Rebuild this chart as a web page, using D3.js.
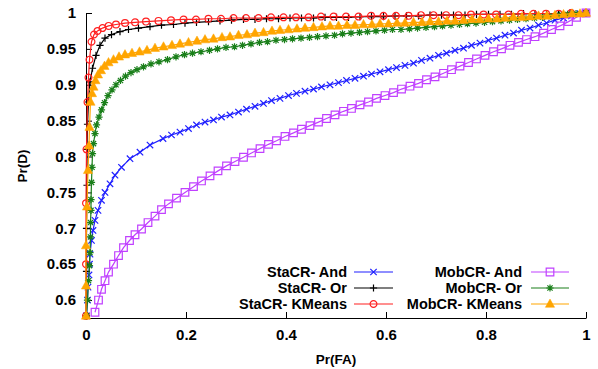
<!DOCTYPE html>
<html>
<head>
<meta charset="utf-8">
<script src="https://cdn.jsdelivr.net/npm/d3@7"></script>
<style>
  body { margin: 0; background: #fff; }
  svg { display: block; font-family: "Liberation Sans", Arial, sans-serif; }
</style>
</head>
<body>
<div id="chart"></div>
<script>
// ROC curves, Pr(D) vs Pr(FA). Points are [Pr(FA), Pr(D)].
const xTicks = [0, 0.2, 0.4, 0.6, 0.8, 1];
const xTickLabels = ['0', '0.2', '0.4', '0.6', '0.8', '1'];
const yTicks = [0.6, 0.65, 0.7, 0.75, 0.8, 0.85, 0.9, 0.95, 1];
const yTickLabels = ['0.6', '0.65', '0.7', '0.75', '0.8', '0.85', '0.9', '0.95', '1'];

const seriesNames = ['StaCR- And', 'StaCR- Or', 'StaCR- KMeans', 'MobCR- And', 'MobCR- Or', 'MobCR- KMeans'];

const staAnd = [[0.001,0.578],[0.003,0.600],[0.004,0.618],[0.006,0.635],[0.007,0.650],[0.008,0.664],[0.011,0.683],[0.014,0.697],[0.018,0.711],[0.024,0.725],[0.031,0.739],[0.038,0.750],[0.048,0.762],[0.058,0.774],[0.071,0.785],[0.088,0.797],[0.108,0.806],[0.128,0.816],[0.154,0.825],[0.171,0.830],[0.188,0.834],[0.205,0.839],[0.221,0.844],[0.238,0.848],[0.255,0.851],[0.271,0.855],[0.288,0.858],[0.305,0.862],[0.321,0.866],[0.338,0.870],[0.355,0.874],[0.371,0.878],[0.388,0.881],[0.405,0.885],[0.421,0.888],[0.438,0.891],[0.455,0.894],[0.471,0.897],[0.488,0.900],[0.505,0.903],[0.521,0.906],[0.538,0.909],[0.555,0.912],[0.571,0.915],[0.588,0.918],[0.605,0.921],[0.621,0.924],[0.638,0.927],[0.655,0.930],[0.671,0.934],[0.688,0.937],[0.705,0.941],[0.721,0.944],[0.738,0.948],[0.755,0.951],[0.771,0.955],[0.788,0.958],[0.805,0.962],[0.821,0.965],[0.838,0.969],[0.855,0.972],[0.871,0.976],[0.888,0.979],[0.905,0.983],[0.921,0.986],[0.938,0.990],[0.955,0.993],[0.971,0.996],[0.988,0.999],[1.000,1.000]];

const staOr = [[0.000,0.578],[0.001,0.640],[0.001,0.700],[0.002,0.760],[0.002,0.810],[0.003,0.845],[0.005,0.876],[0.008,0.904],[0.013,0.923],[0.020,0.941],[0.028,0.955],[0.038,0.965],[0.051,0.970],[0.068,0.974],[0.085,0.977],[0.105,0.979],[0.128,0.981],[0.151,0.983],[0.175,0.984],[0.198,0.986],[0.221,0.987],[0.245,0.988],[0.268,0.989],[0.291,0.990],[0.315,0.991],[0.338,0.991],[0.361,0.992],[0.385,0.992],[0.408,0.993],[0.431,0.993],[0.455,0.993],[0.478,0.994],[0.501,0.994],[0.525,0.994],[0.548,0.995],[0.571,0.995],[0.595,0.995],[0.618,0.996],[0.641,0.996],[0.665,0.996],[0.688,0.997],[0.711,0.997],[0.735,0.997],[0.758,0.997],[0.781,0.998],[0.805,0.998],[0.828,0.998],[0.851,0.998],[0.875,0.999],[0.898,0.999],[0.921,0.999],[0.945,0.999],[0.968,1.000],[1.000,1.000]];

const staKMeans = [[0.000,0.578],[0.000,0.650],[0.000,0.735],[0.001,0.810],[0.003,0.876],[0.005,0.910],[0.007,0.935],[0.011,0.960],[0.016,0.970],[0.023,0.975],[0.033,0.979],[0.045,0.982],[0.060,0.984],[0.078,0.986],[0.098,0.987],[0.120,0.988],[0.145,0.989],[0.170,0.990],[0.195,0.991],[0.220,0.991],[0.245,0.992],[0.270,0.992],[0.295,0.993],[0.320,0.993],[0.345,0.993],[0.370,0.994],[0.395,0.994],[0.420,0.994],[0.445,0.994],[0.470,0.995],[0.495,0.995],[0.520,0.995],[0.545,0.995],[0.570,0.996],[0.595,0.996],[0.620,0.996],[0.645,0.996],[0.670,0.997],[0.695,0.997],[0.720,0.997],[0.745,0.997],[0.770,0.998],[0.795,0.998],[0.820,0.998],[0.845,0.998],[0.870,0.999],[0.895,0.999],[0.920,0.999],[0.945,0.999],[0.970,1.000],[1.000,1.000]];

const mobAnd = [[0.018,0.583],[0.025,0.600],[0.031,0.615],[0.038,0.627],[0.045,0.639],[0.055,0.650],[0.065,0.662],[0.075,0.673],[0.087,0.683],[0.098,0.691],[0.111,0.699],[0.124,0.708],[0.138,0.717],[0.151,0.726],[0.165,0.734],[0.181,0.742],[0.198,0.750],[0.215,0.758],[0.231,0.766],[0.248,0.773],[0.264,0.780],[0.281,0.787],[0.298,0.793],[0.315,0.799],[0.331,0.805],[0.348,0.811],[0.365,0.817],[0.381,0.822],[0.398,0.828],[0.415,0.833],[0.431,0.838],[0.448,0.843],[0.465,0.848],[0.481,0.853],[0.498,0.858],[0.515,0.863],[0.531,0.867],[0.548,0.872],[0.565,0.876],[0.581,0.881],[0.598,0.885],[0.615,0.889],[0.631,0.894],[0.648,0.898],[0.665,0.902],[0.681,0.907],[0.698,0.911],[0.715,0.916],[0.731,0.921],[0.748,0.926],[0.765,0.931],[0.781,0.936],[0.798,0.941],[0.815,0.946],[0.831,0.950],[0.848,0.955],[0.865,0.959],[0.881,0.963],[0.898,0.967],[0.915,0.972],[0.931,0.977],[0.948,0.982],[0.965,0.988],[0.981,0.994],[1.000,1.000]];

const mobOr = [[0.001,0.578],[0.003,0.600],[0.005,0.627],[0.007,0.648],[0.008,0.666],[0.009,0.688],[0.009,0.708],[0.010,0.725],[0.010,0.740],[0.011,0.764],[0.012,0.785],[0.013,0.804],[0.015,0.818],[0.018,0.832],[0.021,0.844],[0.026,0.855],[0.031,0.865],[0.037,0.875],[0.044,0.885],[0.052,0.893],[0.060,0.900],[0.069,0.906],[0.079,0.912],[0.090,0.917],[0.102,0.921],[0.115,0.925],[0.130,0.929],[0.146,0.932],[0.163,0.935],[0.180,0.939],[0.197,0.942],[0.213,0.944],[0.230,0.946],[0.247,0.948],[0.263,0.950],[0.280,0.952],[0.297,0.953],[0.313,0.955],[0.330,0.957],[0.347,0.959],[0.363,0.960],[0.380,0.962],[0.397,0.963],[0.413,0.964],[0.430,0.965],[0.447,0.966],[0.463,0.967],[0.480,0.968],[0.497,0.969],[0.513,0.971],[0.530,0.972],[0.547,0.973],[0.563,0.974],[0.580,0.975],[0.597,0.976],[0.613,0.977],[0.630,0.977],[0.647,0.978],[0.663,0.979],[0.680,0.980],[0.697,0.981],[0.713,0.982],[0.730,0.983],[0.747,0.984],[0.763,0.985],[0.780,0.986],[0.797,0.987],[0.813,0.988],[0.830,0.989],[0.847,0.990],[0.863,0.991],[0.880,0.992],[0.897,0.993],[0.913,0.994],[0.930,0.995],[0.947,0.997],[0.963,0.998],[0.980,0.999],[1.000,1.000]];

const mobKMeans = [[0.000,0.578],[0.000,0.620],[0.000,0.676],[0.002,0.730],[0.004,0.781],[0.006,0.815],[0.007,0.841],[0.009,0.876],[0.012,0.888],[0.015,0.897],[0.019,0.906],[0.024,0.914],[0.030,0.920],[0.037,0.926],[0.045,0.931],[0.055,0.935],[0.066,0.939],[0.078,0.942],[0.092,0.944],[0.107,0.946],[0.122,0.948],[0.138,0.951],[0.155,0.953],[0.172,0.955],[0.188,0.957],[0.205,0.959],[0.222,0.961],[0.238,0.963],[0.255,0.964],[0.272,0.966],[0.288,0.967],[0.305,0.969],[0.322,0.970],[0.338,0.972],[0.355,0.973],[0.372,0.975],[0.388,0.976],[0.405,0.977],[0.422,0.978],[0.438,0.979],[0.455,0.980],[0.472,0.981],[0.488,0.982],[0.505,0.982],[0.522,0.983],[0.538,0.983],[0.555,0.984],[0.572,0.984],[0.588,0.985],[0.605,0.985],[0.622,0.986],[0.638,0.986],[0.655,0.987],[0.672,0.987],[0.688,0.988],[0.705,0.988],[0.722,0.989],[0.738,0.989],[0.755,0.990],[0.772,0.991],[0.788,0.991],[0.805,0.992],[0.822,0.992],[0.838,0.993],[0.855,0.994],[0.872,0.994],[0.888,0.995],[0.905,0.996],[0.922,0.996],[0.938,0.997],[0.955,0.998],[0.972,0.999],[0.988,0.999],[1.000,1.000]];

const seriesData = [staAnd, staOr, staKMeans, mobAnd, mobOr, mobKMeans];
const seriesColors = ['#1f1fff', '#000000', '#ff2020', '#c040ff', '#1a7f1a', '#ffa500'];
const seriesMarkers = ['cross', 'plus', 'circle', 'square', 'star', 'triangle'];

const W = 598, H = 369;
const margin = { top: 13, right: 12, bottom: 51, left: 86 };
const innerW = W - margin.left - margin.right;
const innerH = H - margin.top - margin.bottom;

const x = d3.scaleLinear().domain([0, 1]).range([0, innerW]);
const y = d3.scaleLinear().domain([0.575, 1]).range([innerH, 0]);

const svg = d3.select('#chart').append('svg').attr('width', W).attr('height', H);
const g = svg.append('g').attr('transform', `translate(${margin.left},${margin.top})`);

// axes: only left and bottom, ticks pointing inward
g.append('g')
  .attr('transform', `translate(0,${innerH})`)
  .call(d3.axisBottom(x).tickValues(xTicks).tickFormat((d, i) => xTickLabels[i]).tickSize(-6).tickSizeOuter(0).tickPadding(11))
  .call((a) => a.selectAll('text').attr('fill', '#000').style('font-size', '15px').style('font-weight', 700))
  .call((a) => a.selectAll('line, .domain').attr('stroke', '#000'));

g.append('g')
  .call(d3.axisLeft(y).tickValues(yTicks).tickFormat((d, i) => yTickLabels[i]).tickSize(-6).tickSizeOuter(0).tickPadding(10))
  .call((a) => a.selectAll('text').attr('fill', '#000').style('font-size', '15px').style('font-weight', 700))
  .call((a) => a.selectAll('line, .domain').attr('stroke', '#000'));

g.append('text')
  .attr('transform', `translate(${22 - margin.left},${166 - margin.top}) rotate(-90)`)
  .attr('text-anchor', 'middle')
  .attr('dy', '0.35em')
  .style('font-size', '13.5px')
  .style('font-weight', 700)
  .text('Pr(D)');

g.append('text')
  .attr('x', x(0.5))
  .attr('y', 359 - margin.top)
  .attr('text-anchor', 'middle')
  .attr('dy', '0.35em')
  .style('font-size', '13.5px')
  .style('font-weight', 700)
  .text('Pr(FA)');

function markerPath(type, cx, cy) {
  const p = d3.path();
  if (type === 'cross' || type === 'star') {
    const s = type === 'star' ? 2.6 : 3.2;
    p.moveTo(cx - s, cy - s); p.lineTo(cx + s, cy + s);
    p.moveTo(cx - s, cy + s); p.lineTo(cx + s, cy - s);
  }
  if (type === 'plus' || type === 'star') {
    const s = 3.6;
    p.moveTo(cx - s, cy); p.lineTo(cx + s, cy);
    p.moveTo(cx, cy - s); p.lineTo(cx, cy + s);
  }
  if (type === 'circle') {
    p.moveTo(cx + 3.4, cy); p.arc(cx, cy, 3.4, 0, 2 * Math.PI);
  }
  if (type === 'square') {
    p.rect(cx - 3.8, cy - 3.8, 7.6, 7.6);
  }
  if (type === 'triangle') {
    p.moveTo(cx, cy - 5); p.lineTo(cx + 4.6, cy + 3.3); p.lineTo(cx - 4.6, cy + 3.3); p.closePath();
  }
  return p.toString();
}

const line = d3.line().x((d) => x(d[0])).y((d) => y(d[1]));

seriesData.forEach((data, i) => {
  const color = seriesColors[i];
  const type = seriesMarkers[i];
  const sg = g.append('g').attr('class', 'series');
  sg.append('path')
    .attr('d', line(data))
    .attr('fill', 'none')
    .attr('stroke', color)
    .attr('stroke-width', 1.2);
  sg.selectAll('path.marker')
    .data(data)
    .join('path')
    .attr('class', 'marker')
    .attr('d', (d) => markerPath(type, x(d[0]), y(d[1])))
    .attr('fill', type === 'triangle' ? color : 'none')
    .attr('stroke', color)
    .attr('stroke-width', type === 'triangle' ? 0.5 : 1.2);
});

// legend, two columns of three
const legTextX = [347, 522];
const legLineX = [[354, 393], [531, 569]];
const legRowY = [272, 288, 304];
seriesNames.forEach((name, i) => {
  const col = i < 3 ? 0 : 1;
  const row = i % 3;
  const ly = legRowY[row] - margin.top;
  const lg = g.append('g').attr('class', 'legend-item');
  lg.append('text')
    .attr('x', legTextX[col] - margin.left)
    .attr('y', ly)
    .attr('dy', '0.35em')
    .attr('text-anchor', 'end')
    .style('font-size', '14.5px')
    .style('font-weight', 700)
    .text(name);
  const x1 = legLineX[col][0] - margin.left;
  const x2 = legLineX[col][1] - margin.left;
  lg.append('line')
    .attr('x1', x1).attr('x2', x2).attr('y1', ly).attr('y2', ly)
    .attr('stroke', seriesColors[i]).attr('stroke-width', 1.2);
  lg.append('path')
    .attr('d', markerPath(seriesMarkers[i], (x1 + x2) / 2, ly))
    .attr('fill', seriesMarkers[i] === 'triangle' ? seriesColors[i] : 'none')
    .attr('stroke', seriesColors[i])
    .attr('stroke-width', seriesMarkers[i] === 'triangle' ? 0.5 : 1.2);
});
</script>
</body>
</html>
